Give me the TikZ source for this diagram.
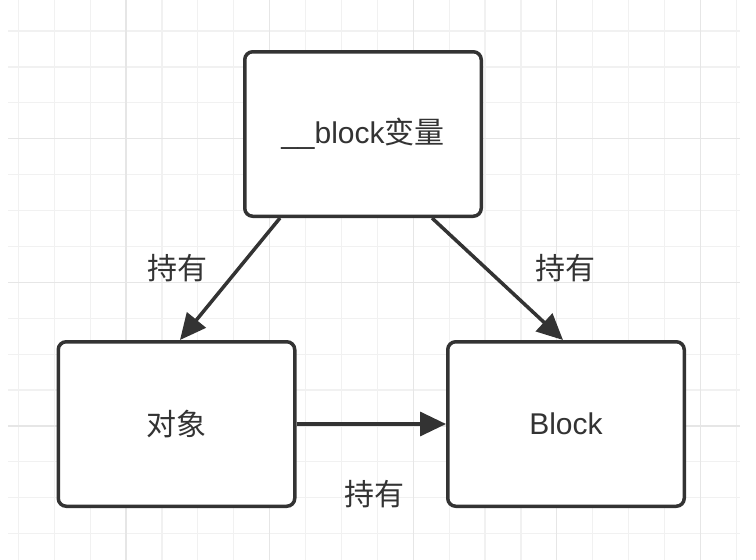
\documentclass[tikz,border=0pt]{standalone}
\usepackage{fontspec}
\setmainfont{Liberation Sans}
\newfontfamily\cjk{Noto Sans CJK SC}
\usetikzlibrary{arrows.meta}

\begin{document}
\begin{tikzpicture}[x=1pt,y=-1pt,
    box/.style={draw=boxCol,line width=3.5pt,rounded corners=8pt,fill=white,
        minimum width=236.5pt,minimum height=164.5pt,inner sep=0pt,font=\fontsize{30}{35}\selectfont},
    hold/.style={draw=boxCol,line width=3.5pt,-{Triangle[length=26pt,width=24pt]}},
    lbl/.style={font=\cjk\fontsize{30}{35}\selectfont,text=textCol}]
    \definecolor{boxCol}{HTML}{333333}
    \definecolor{textCol}{HTML}{333333}
    \definecolor{gridMinor}{HTML}{F1F1F1}
    \definecolor{gridMajor}{HTML}{E6E6E6}

    \useasboundingbox (0,0) rectangle (756,560);
    \fill[white] (0,0) rectangle (756,560);

    % grid
    \foreach \k in {0,...,20} {
        \pgfmathsetmacro{\gx}{18.3+35.9*\k}
        \draw[gridMinor,line width=1.2pt] (\gx,0) -- (\gx,560);
    }
    \foreach \k in {0,...,14} {
        \pgfmathsetmacro{\gy}{31+35.9*\k}
        \draw[gridMinor,line width=1.2pt] (8,\gy) -- (740,\gy);
    }
    \foreach \k in {3,7,11,15,19} {
        \pgfmathsetmacro{\gx}{18.3+35.9*\k}
        \draw[gridMajor,line width=1.2pt] (\gx,0) -- (\gx,560);
    }
    \foreach \k in {3,7,11} {
        \pgfmathsetmacro{\gy}{31+35.9*\k}
        \draw[gridMajor,line width=1.2pt] (8,\gy) -- (740,\gy);
    }

    % boxes
    \node[box] (blockVar) at (363,134) {\textcolor{textCol}{\_\_block{\cjk 变量}}};
    \node[box] (obj) at (176.5,424) {\textcolor{textCol}{\cjk 对象}};
    \node[box] (blk) at (566,424) {\textcolor{textCol}{Block}};

    % arrows
    \draw[hold] ([xshift=-83pt]blockVar.south) -- ([xshift=3.5pt]obj.north);
    \draw[hold] ([xshift=69pt]blockVar.south) -- ([xshift=-3pt]blk.north);
    \draw[hold] (obj.east) -- (blk.west);

    \node[lbl] (holdL) at (177,268) {持有};
    \node[lbl] (holdR) at (565,268) {持有};
    \node[lbl] (holdB) at (374,494) {持有};
\end{tikzpicture}
\end{document}
